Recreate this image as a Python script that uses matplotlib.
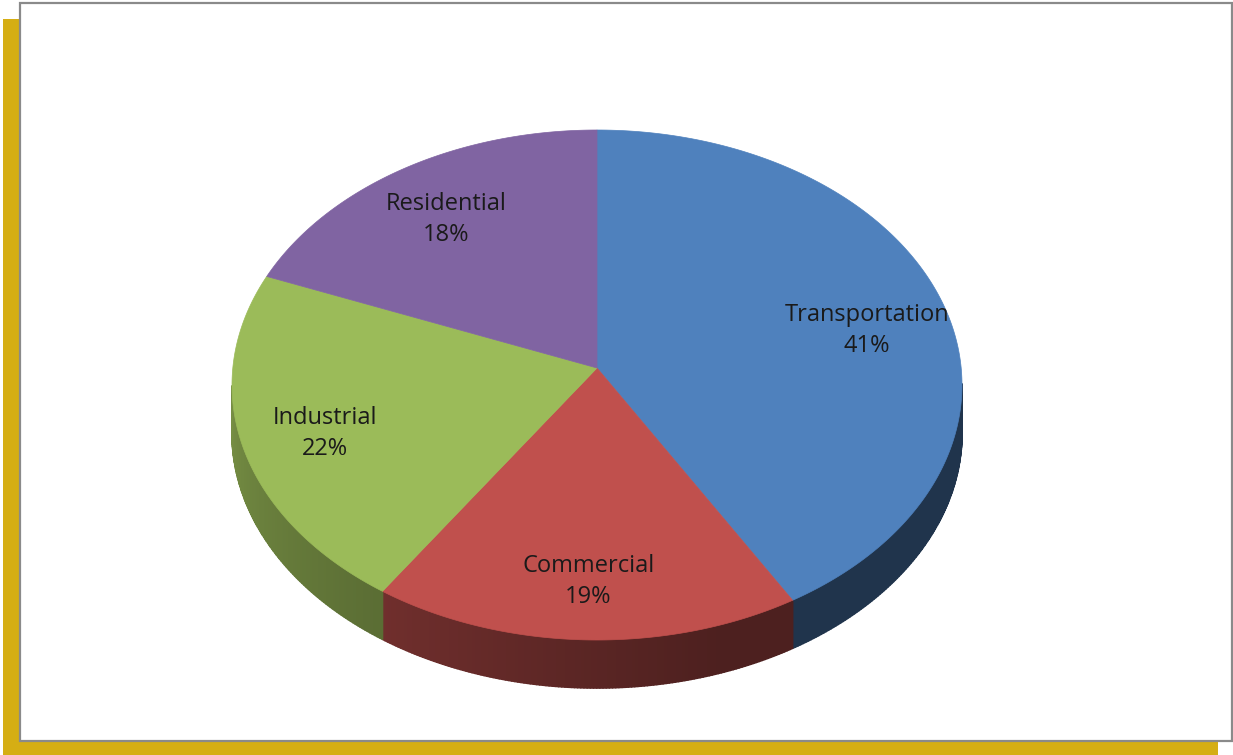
import numpy as np
import matplotlib.pyplot as plt
from matplotlib.patches import Rectangle, Polygon
from matplotlib.collections import PolyCollection
from matplotlib.colors import to_rgb

# data
labels = ["Transportation", "Commercial", "Industrial", "Residential"]
shares = [41, 19, 22, 18]
colors = ["#4f81bd", "#c0504d", "#9bbb59", "#8064a2"]

# geometry of the tilted pie, in pixels of the 1233x755 image
W, H = 1233, 755
cx, cy = 597, 385      # centre of the top ellipse
rx, ry = 365, 255
vx, vy = 597, 368      # point where the slices meet
depth = 48
label_r = 0.77


def edge(t):
    return cx + rx * np.cos(t), cy - ry * np.sin(t)


def shade(col, t):
    # side darkness: lighter on the left, dark from the bottom to the right
    a = np.degrees(t) % 360
    f = 0.40 + 0.36 * np.clip((290 - a) / 110, 0, 1)
    r, g, b = to_rgb(col)
    return (r * f, g * f, b * f)


def main():
    fig = plt.figure(figsize=(W / 100, H / 100), dpi=100)
    ax = fig.add_axes([0, 0, 1, 1])
    ax.set_xlim(0, W)
    ax.set_ylim(H, 0)
    ax.axis("off")

    # gold shadow and white frame
    ax.add_patch(Rectangle((3, 19), 1215, 740, facecolor="#d5ae14", edgecolor="none"))
    ax.add_patch(Rectangle((20, 3), 1212, 738, facecolor="white", edgecolor="#8a8a8a", lw=1.6))

    total = float(sum(shares))
    starts = np.radians(90 - 360 * np.cumsum([0] + shares[:-1]) / total)
    ends = np.radians(90 - 360 * np.cumsum(shares) / total)

    # sides (front half only)
    quads, qcols = [], []
    for t0, t1, col in zip(starts, ends, colors):
        ts = np.linspace(t0, t1, int(abs(np.degrees(t0 - t1)) * 2) + 2)
        for a, b in zip(ts[:-1], ts[1:]):
            m = (a + b) / 2
            if np.sin(m) >= 0:
                continue
            xa, ya = edge(a)
            xb, yb = edge(b)
            quads.append([(xa, ya), (xb, yb), (xb, yb + depth), (xa, ya + depth)])
            qcols.append(shade(col, m))
    ax.add_collection(PolyCollection(quads, facecolors=qcols, edgecolors=qcols, linewidths=1.2))

    # top faces
    for t0, t1, col in zip(starts, ends, colors):
        ts = np.linspace(t0, t1, 200)
        xs, ys = edge(ts)
        pts = [(vx, vy)] + list(zip(xs, ys))
        ax.add_patch(Polygon(pts, closed=True, facecolor=col, edgecolor=col, lw=0.5))

    # labels
    for t0, t1, lab, s in zip(starts, ends, labels, shares):
        m = (t0 + t1) / 2
        x = cx + label_r * rx * np.cos(m)
        y = cy - label_r * ry * np.sin(m)
        ax.text(x, y, f"{lab}\n{s}%", ha="center", va="center", fontsize=17,
                family=["Open Sans", "DejaVu Sans"], color="#1a1a1a", linespacing=1.4)

    fig.savefig("out.png", dpi=100)


if __name__ == "__main__":
    main()
